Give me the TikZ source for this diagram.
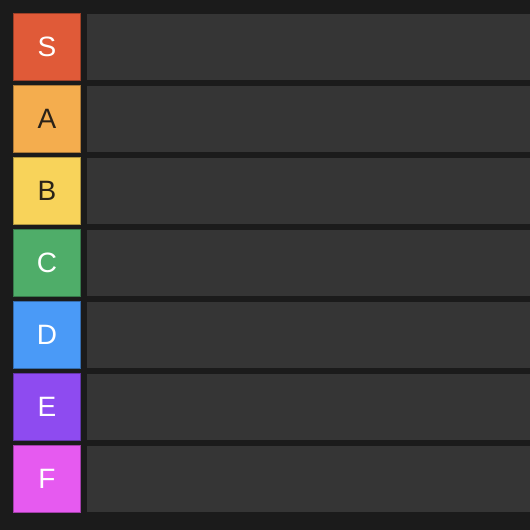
\documentclass[tikz,border=0pt]{standalone}
\usepackage{fontspec}
\setmainfont{Liberation Sans}
\usepackage{tikz}
\usetikzlibrary{positioning}

\definecolor{bg}{HTML}{1B1B1B}
\definecolor{panel}{HTML}{353535}
\definecolor{tierS}{HTML}{E05A38}
\definecolor{tierA}{HTML}{F4AD4E}
\definecolor{tierB}{HTML}{F8D35A}
\definecolor{tierC}{HTML}{4FAD69}
\definecolor{tierD}{HTML}{4A9AF7}
\definecolor{tierE}{HTML}{8E4BF0}
\definecolor{tierF}{HTML}{E65AF0}
\definecolor{ink}{HTML}{2A2218}

\begin{document}
\begin{tikzpicture}[x=1pt,y=1pt,
    tier/.style={draw=#1!70!black,fill=#1,line width=1pt,minimum size=67pt,inner sep=0pt,
      font=\fontsize{28}{28}\selectfont},
    row/.style={fill=panel,minimum width=443pt,minimum height=66pt,inner sep=0pt,outer sep=0pt}]
        \fill[bg] (0,0) rectangle (530,530);
        \useasboundingbox (0,0) rectangle (530,530);
        % label squares and their rows
        \foreach \t/\txt [count=\i from 0] in {S/white,A/ink,B/ink,C/white,D/white,E/white,F/white}{
          \node [tier=tier\t,text=\txt] (\t) at (47,483-72*\i) {\t};
          \node [row,right=6pt of \t] (row\t) {};
        }
    \end{tikzpicture}
\end{document}
